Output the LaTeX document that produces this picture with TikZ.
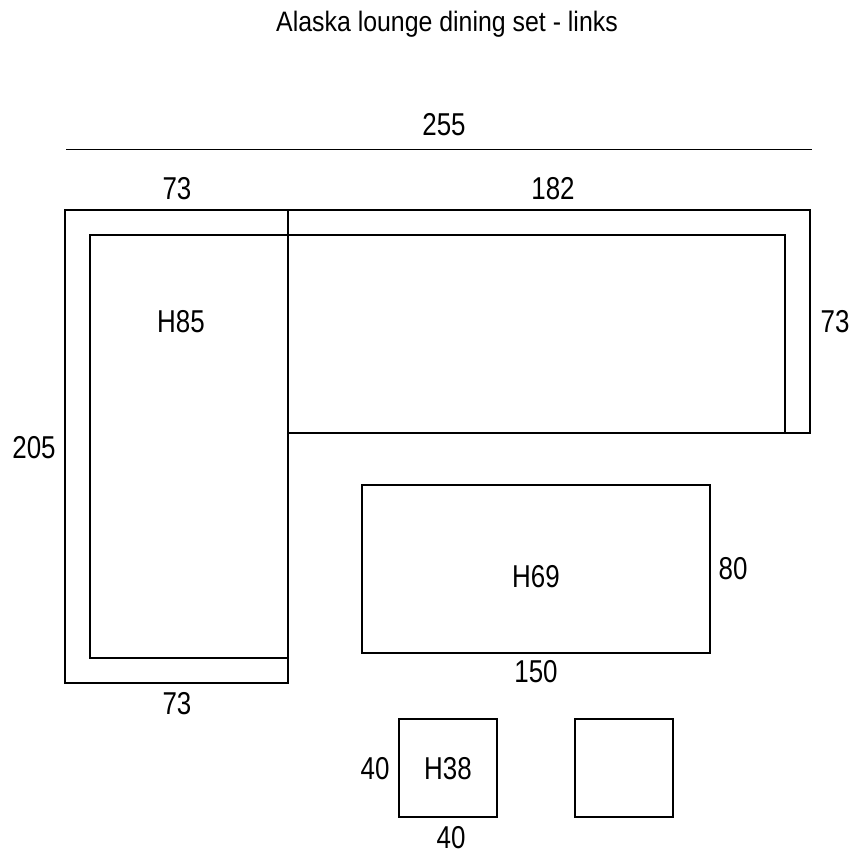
\documentclass[tikz,border=0pt]{standalone}
\usepackage{fontspec}
\setmainfont{Liberation Sans}
\newfontfamily\titelfont[FakeStretch=0.885]{Liberation Sans}
\newfontfamily\maatfont[FakeStretch=0.82]{Liberation Sans}
\tikzset{
    plan/.style={draw=black, line width=0.85pt},
    maatlijn/.style={draw=black, line width=0.5pt},
    titel/.style={font=\titelfont\fontsize{16}{19}\selectfont, inner sep=0pt},
    maat/.style={font=\maatfont\fontsize{18}{21}\selectfont, inner sep=0pt},
}
\begin{document}
\begin{tikzpicture}[x=0.02cm, y=-0.02cm]
    \useasboundingbox (0,0) rectangle (864,864);

    \node[titel] (title) at (447,24) {Alaska lounge dining set - links};

    \draw[maatlijn] (66,149.5) -- (812,149.5);
    \node[maat] (total_width) at (444,125) {255};

    % linker element
    \draw[plan] (65,210) rectangle (288,683);
    \draw[plan] (288,658) -- (90,658) -- (90,235) -- (288,235);

    % rechter element
    \draw[plan] (288,210) -- (810,210) -- (810,433) -- (288,433);
    \draw[plan] (288,235) -- (785,235) -- (785,433);

    % tafel en krukken
    \draw[plan] (362,485) rectangle (710,653);
    \draw[plan] (399,719) rectangle (497,817);
    \draw[plan] (575,719) rectangle (673,817);

    \node[maat] (left_top) at (177,189) {73};
    \node[maat] (right_top) at (553,189) {182};
    \node[maat] (right_depth) at (835,322) {73};
    \node[maat] (left_height) at (34,448) {205};
    \node[maat] (left_bottom) at (177,704) {73};
    \node[maat] (sofa_height) at (181,322) {H85};

    \node[maat] (table_height) at (536,577) {H69};
    \node[maat] (table_depth) at (733,569) {80};
    \node[maat] (table_width) at (536,672) {150};

    \node[maat] (stool_height) at (448,769) {H38};
    \node[maat] (stool_depth) at (375,769) {40};
    \node[maat] (stool_width) at (451,838) {40};
\end{tikzpicture}
\end{document}
